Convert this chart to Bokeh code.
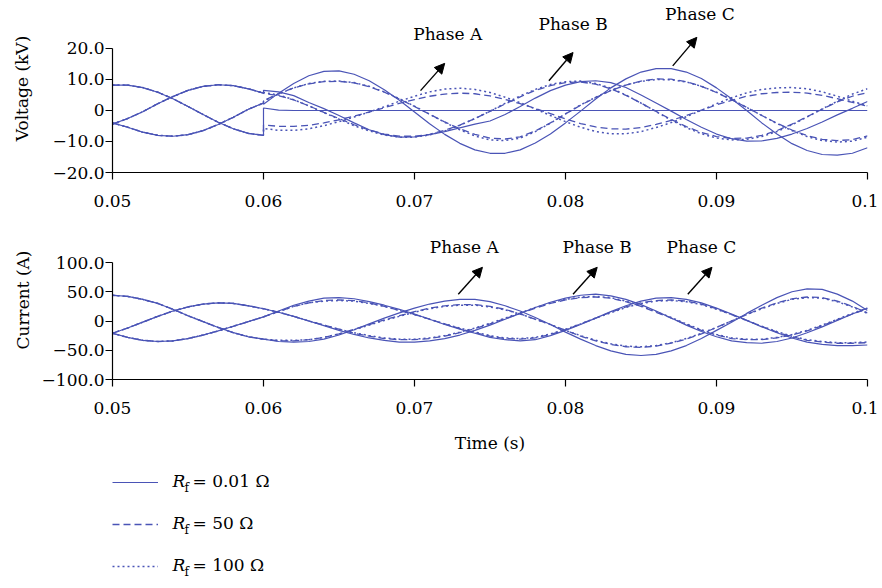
from bokeh.plotting import figure
from bokeh.models import Range1d, FixedTicker, Label, Arrow, NormalHead, Legend, LegendItem
from bokeh.layouts import column
from bokeh.embed import file_html
from bokeh.resources import INLINE

# ---------------- data ----------------
t_pre = [0.050, 0.051, 0.052, 0.053, 0.054, 0.055, 0.056, 0.057, 0.058, 0.059, 0.060]
t_post = [0.060, 0.061, 0.062, 0.063, 0.064, 0.065, 0.066, 0.067, 0.068, 0.069,
          0.070, 0.071, 0.072, 0.073, 0.074, 0.075, 0.076, 0.077, 0.078, 0.079,
          0.080, 0.081, 0.082, 0.083, 0.084, 0.085, 0.086, 0.087, 0.088, 0.089,
          0.090, 0.091, 0.092, 0.093, 0.094, 0.095, 0.096, 0.097, 0.098, 0.099, 0.100]

# Voltage (kV), before the fault (same for every Rf)
va_pre = [8.2, 8.2, 7.4, 5.9, 3.8, 1.3, -1.3, -3.8, -5.9, -7.4, -8.0]
vb_pre = [-4.4, -2.6, -0.4, 2.2, 4.5, 6.5, 7.8, 8.3, 8.0, 7.0, 5.6]
vc_pre = [-4.0, -5.4, -7.0, -8.0, -8.3, -7.8, -6.5, -4.5, -2.2, 0.4, 2.4]

# Voltage after the fault, Rf = 0.01 ohm
va_001 = [0.8, 0.1, 0.0, 0.0, 0.0, 0.0, 0.0, 0.0, 0.0, 0.0,
          0.0, 0.0, 0.0, 0.0, 0.0, 0.0, 0.0, 0.0, 0.0, 0.0,
          0.0, 0.0, 0.0, 0.0, 0.0, 0.0, 0.0, 0.0, 0.0, 0.0,
          0.0, 0.0, 0.0, 0.0, 0.0, 0.0, 0.0, 0.0, 0.0, 0.0, 0.0]
vb_001 = [6.5, 6.0, 4.8, 2.6, 0.6, -1.6, -4.0, -6.2, -7.8, -8.6,
          -8.5, -7.8, -6.8, -5.6, -4.4, -3.4, -1.3, 1.3, 4.0, 6.4,
          8.2, 9.3, 9.6, 9.0, 7.4, 5.0, 2.4, -0.2, -2.9, -5.4,
          -7.6, -9.1, -9.9, -9.8, -9.0, -7.6, -5.8, -3.7, -1.4, 0.7, 2.9]
vc_001 = [2.0, 5.6, 8.7, 11.2, 12.6, 12.8, 11.7, 9.6, 6.7, 3.3,
          -0.5, -4.3, -7.7, -10.6, -12.7, -13.8, -13.8, -12.7, -10.5, -7.6,
          -4.0, -0.2, 3.7, 7.3, 10.2, 12.4, 13.5, 13.5, 12.4, 10.3,
          7.3, 3.8, 0.0, -4.0, -7.6, -10.7, -12.9, -14.2, -14.4, -13.8, -12.0]

# Voltage after the fault, Rf = 50 ohm
va_50 = [-4.7, -5.1, -5.1, -4.8, -4.0, -3.0, -1.8, -0.5, 0.9, 2.3,
         3.5, 4.6, 5.3, 5.6, 5.4, 4.7, 3.6, 2.2, 0.7, -1.0,
         -2.7, -4.2, -5.3, -5.9, -6.0, -5.5, -4.5, -3.2, -1.6, 0.1,
         1.8, 3.3, 4.6, 5.4, 5.8, 5.9, 5.6, 4.9, 3.8, 2.6, 1.4]
vb_50 = [5.5, 4.8, 3.4, 1.5, -0.6, -2.6, -4.6, -6.3, -7.6, -8.3,
         -8.3, -7.7, -6.4, -4.7, -2.6, -0.3, 2.1, 4.4, 6.5, 8.0,
         9.0, 9.2, 8.5, 7.0, 4.9, 2.4, -0.3, -2.9, -5.2, -7.1,
         -8.4, -9.0, -8.9, -8.0, -6.5, -4.4, -2.0, 0.4, 2.8, 4.6, 5.8]
vc_50 = [3.2, 5.4, 7.3, 8.6, 9.3, 9.4, 8.9, 7.7, 5.9, 3.7,
         1.3, -1.2, -3.7, -5.9, -7.7, -8.9, -9.2, -8.5, -6.6, -4.0,
         -1.1, 1.7, 4.2, 6.4, 8.2, 9.5, 10.2, 10.1, 9.3, 7.8,
         5.8, 3.5, 1.0, -1.6, -4.1, -6.3, -8.1, -9.3, -9.7, -9.4, -8.2]

# Voltage after the fault, Rf = 100 ohm
va_100 = [-5.8, -6.4, -6.4, -5.9, -4.9, -3.6, -2.1, -0.5, 1.2, 3.0,
          4.6, 6.0, 6.9, 7.2, 6.8, 5.8, 4.3, 2.5, 0.5, -1.6,
          -3.6, -5.4, -6.8, -7.5, -7.5, -6.8, -5.5, -3.9, -2.0, 0.1,
          2.2, 4.1, 5.7, 6.8, 7.3, 7.4, 7.0, 6.0, 4.6, 3.0, 1.5]
vb_100 = [5.8, 5.0, 3.5, 1.5, -0.7, -2.8, -4.9, -6.6, -7.9, -8.6,
          -8.6, -7.9, -6.6, -4.8, -2.6, -0.2, 2.3, 4.7, 6.8, 8.4,
          9.3, 9.5, 8.7, 7.2, 5.0, 2.4, -0.4, -3.1, -5.5, -7.5,
          -8.9, -9.5, -9.3, -8.4, -6.8, -4.6, -2.1, 0.5, 3.0, 5.3, 7.0]
vc_100 = [3.0, 5.3, 7.3, 8.7, 9.4, 9.5, 9.0, 7.8, 6.0, 3.8,
          1.4, -1.2, -3.8, -6.2, -8.2, -9.5, -9.7, -8.9, -6.8, -4.1,
          -1.1, 1.8, 4.3, 6.5, 8.2, 9.4, 10.0, 9.9, 9.2, 7.8,
          5.9, 3.6, 1.0, -1.6, -4.2, -6.5, -8.4, -9.7, -10.2, -9.9, -8.6]

# Current (A), before the fault
ia_pre = [44, 42, 37, 30, 20, 9, -1, -11, -20, -27, -31]
ib_pre = [-21, -12, -2, 8, 17, 24, 29, 31, 30, 26, 21]
ic_pre = [-21, -28, -33, -35, -34, -30, -24, -17, -9, -1, 7]

# Current after the fault, Rf = 0.01 ohm
ia_001 = [-31, -35, -36, -35, -31, -24, -15, -5, 5, 14,
          22, 29, 34, 37, 37, 33, 26, 17, 6, -6,
          -19, -31, -42, -51, -57, -59, -57, -51, -42, -30,
          -16, -2, 13, 27, 40, 50, 55, 54, 46, 34, 18]
ib_001 = [21, 15, 8, 0, -8, -16, -23, -29, -33, -36,
          -36, -34, -30, -24, -16, -7, 3, 13, 23, 32,
          39, 44, 46, 43, 37, 28, 17, 5, -7, -18,
          -27, -34, -37, -38, -35, -29, -20, -10, 1, 12, 22]
ic_001 = [7, 17, 27, 34, 39, 40, 38, 33, 27, 20,
          12, 3, -6, -14, -21, -28, -32, -34, -32, -25,
          -16, -6, 5, 16, 26, 34, 39, 40, 37, 31,
          22, 12, 1, -10, -20, -29, -36, -40, -42, -42, -41]

# Current after the fault, Rf = 50 ohm
ia_50 = [-31, -34, -34, -32, -28, -22, -14, -6, 2, 9,
         16, 22, 26, 28, 28, 25, 20, 12, 3, -6,
         -16, -26, -34, -40, -44, -45, -43, -38, -31, -22,
         -11, 0, 11, 22, 31, 38, 41, 40, 34, 25, 14]
ib_50 = [21, 15, 8, 0, -7, -14, -21, -26, -30, -32,
         -32, -30, -26, -20, -13, -5, 4, 13, 22, 30,
         36, 40, 41, 39, 33, 25, 15, 5, -6, -16,
         -24, -30, -32, -32, -29, -24, -17, -8, 2, 12, 21]
ic_50 = [7, 16, 25, 31, 35, 36, 35, 31, 25, 18,
         11, 3, -5, -13, -20, -26, -30, -31, -29, -23,
         -15, -5, 5, 15, 24, 31, 35, 36, 34, 29,
         21, 11, 1, -9, -19, -27, -33, -36, -38, -38, -37]

# Current after the fault, Rf = 100 ohm
ia_100 = [-31, -33, -33, -32, -28, -22, -15, -7, 1, 8,
          15, 21, 25, 27, 27, 24, 19, 12, 3, -6,
          -16, -25, -33, -39, -43, -44, -42, -37, -30, -21,
          -11, 0, 11, 21, 30, 37, 40, 39, 33, 24, 13]
ib_100 = [21, 15, 8, 0, -7, -14, -20, -25, -29, -31,
          -31, -29, -25, -19, -12, -4, 5, 14, 23, 31,
          37, 41, 42, 40, 34, 26, 16, 6, -5, -15,
          -23, -29, -31, -31, -28, -23, -16, -7, 3, 13, 22]
ic_100 = [7, 16, 25, 31, 34, 35, 34, 30, 25, 18,
          11, 3, -5, -12, -19, -25, -29, -30, -28, -22,
          -14, -5, 5, 14, 23, 30, 34, 35, 33, 28,
          20, 11, 1, -9, -18, -26, -32, -35, -37, -37, -36]

x_tick_vals = [0.05, 0.06, 0.07, 0.08, 0.09, 0.1]
x_tick_labels = ["0.05", "0.06", "0.07", "0.08", "0.09", "0.1"]
v_tick_vals = [-20, -10, 0, 10, 20]
v_tick_labels = ["\u221220.0", "\u221210.0", "0", "10.0", "20.0"]
i_tick_vals = [-100, -50, 0, 50, 100]
i_tick_labels = ["\u2212100.0", "\u221250.0", "0", "50.0", "100.0"]
phase_names = ["Phase A", "Phase B", "Phase C"]
rf_values = ["0.01", "50", "100"]

# ---------------- styling ----------------
FONT = "DejaVu Serif"
FS = "17px"
COLOR = "#4A54B6"
DASHES = ["solid", "7 4", "2 3"]
WIDTHS = [1.2, 1.3, 1.5]


def style_axes(p, yvals, ylabels, ylabel, y_standoff):
    p.outline_line_color = None
    p.grid.visible = False
    p.xaxis.ticker = FixedTicker(ticks=x_tick_vals)
    p.xaxis.major_label_overrides = dict(zip(x_tick_vals, x_tick_labels))
    p.yaxis.ticker = FixedTicker(ticks=yvals)
    p.yaxis.major_label_overrides = dict(zip(yvals, ylabels))
    p.yaxis.bounds = (yvals[0], yvals[-1])
    for ax in (p.xaxis[0], p.yaxis[0]):
        ax.axis_line_color = "black"
        ax.axis_line_width = 1.2
        ax.major_tick_line_color = "black"
        ax.major_tick_line_width = 1.2
        ax.major_tick_out = 7
        ax.major_tick_in = 0
        ax.minor_tick_out = 0
        ax.minor_tick_in = 0
        ax.major_label_text_font = FONT
        ax.major_label_text_font_size = FS
        ax.major_label_text_color = "black"
        ax.axis_label_text_font = FONT
        ax.axis_label_text_font_size = FS
        ax.axis_label_text_font_style = "normal"
        ax.axis_label_text_color = "black"
    p.xaxis.major_label_standoff = 15
    p.yaxis.major_label_standoff = 1
    p.yaxis.axis_label = ylabel
    p.yaxis.axis_label_standoff = y_standoff


def add_series(p, pre, posts):
    for post, dash, w in zip(posts, DASHES, WIDTHS):
        p.line(t_pre + t_post, pre + post, line_color=COLOR, line_width=w, line_dash=dash)


def add_phase_notes(p, spots):
    for name, (lx, ly, x0, y0, x1, y1) in zip(phase_names, spots):
        p.add_layout(Label(x=lx, y=ly, text=name, text_align="center", text_baseline="middle",
                           text_font=FONT, text_font_size=FS, text_color="black"))
        p.add_layout(Arrow(end=NormalHead(size=10, fill_color="black", line_color="black"),
                           x_start=x0, y_start=y0, x_end=x1, y_end=y1,
                           line_color="black", line_width=1.4))


# ---------------- voltage (frame reaches above the axis to hold the notes) ----------------
p1 = figure(width=878, height=216, x_range=Range1d(0.05, 0.1), y_range=Range1d(-20, 34.19),
            output_backend="svg", toolbar_location=None,
            min_border_left=112, min_border_right=11, min_border_top=4, min_border_bottom=44)
style_axes(p1, v_tick_vals, v_tick_labels, "Voltage (kV)", 17)
add_series(p1, va_pre, [va_001, va_50, va_100])
add_series(p1, vb_pre, [vb_001, vb_50, vb_100])
add_series(p1, vc_pre, [vc_001, vc_50, vc_100])
add_phase_notes(p1, [(0.0722, 24.6, 0.0704, 6.4, 0.0720, 15.2),
                     (0.0805, 27.9, 0.0789, 9.6, 0.0805, 18.7),
                     (0.0889, 31.1, 0.0871, 14.4, 0.0887, 23.6)])

# ---------------- current ----------------
p2 = figure(width=878, height=243, x_range=Range1d(0.05, 0.1), y_range=Range1d(-100, 171.8),
            output_backend="svg", toolbar_location=None,
            min_border_left=112, min_border_right=11, min_border_top=4, min_border_bottom=80)
style_axes(p2, i_tick_vals, i_tick_labels, "Current (A)", 6)
p2.xaxis.axis_label = "Time (s)"
p2.xaxis.axis_label_standoff = 16
add_series(p2, ia_pre, [ia_001, ia_50, ia_100])
add_series(p2, ib_pre, [ib_001, ib_50, ib_100])
add_series(p2, ic_pre, [ic_001, ic_50, ic_100])
add_phase_notes(p2, [(0.0733, 126.5, 0.0729, 45.6, 0.0745, 91.8),
                     (0.0821, 126.5, 0.0805, 45.6, 0.0821, 91.8),
                     (0.0890, 126.5, 0.0881, 45.6, 0.0897, 91.8)])

# ---------------- legend ----------------
p3 = figure(width=878, height=120, x_range=Range1d(1, 2), y_range=Range1d(1, 2),
            output_backend="svg", toolbar_location=None, min_border=0,
            x_axis_location=None, y_axis_location=None)
p3.grid.visible = False
p3.outline_line_color = None
items = []
for rf, dash, w in zip(rf_values, DASHES, WIDTHS):
    # sample lines for the legend; their data lie outside this panel's ranges
    r = p3.line(t_pre, va_pre, line_color=COLOR, line_width=w, line_dash=dash)
    items.append(LegendItem(label=" ", renderers=[r]))
legend = Legend(items=items, location=(0, 3), orientation="vertical",
                glyph_width=46, glyph_height=20, label_height=20, label_width=1,
                spacing=22, padding=0, margin=0, label_standoff=0,
                border_line_color=None, background_fill_alpha=0,
                label_text_font=FONT, label_text_font_size=FS)
p3.add_layout(legend)
for rf, ry in zip(rf_values, [99, 57, 15]):
    p3.add_layout(Label(x=60, y=ry, x_units="screen", y_units="screen", text="R",
                        text_font=FONT, text_font_size=FS, text_font_style="italic",
                        text_baseline="middle", text_color="black"))
    p3.add_layout(Label(x=72, y=ry - 7, x_units="screen", y_units="screen", text="f",
                        text_font=FONT, text_font_size="12px",
                        text_baseline="middle", text_color="black"))
    p3.add_layout(Label(x=80, y=ry, x_units="screen", y_units="screen",
                        text="= " + rf + " \u03a9",
                        text_font=FONT, text_font_size=FS,
                        text_baseline="middle", text_color="black"))

layout = column(p1, p2, p3, spacing=0)
open("out.html", "w").write(file_html(layout, INLINE))
